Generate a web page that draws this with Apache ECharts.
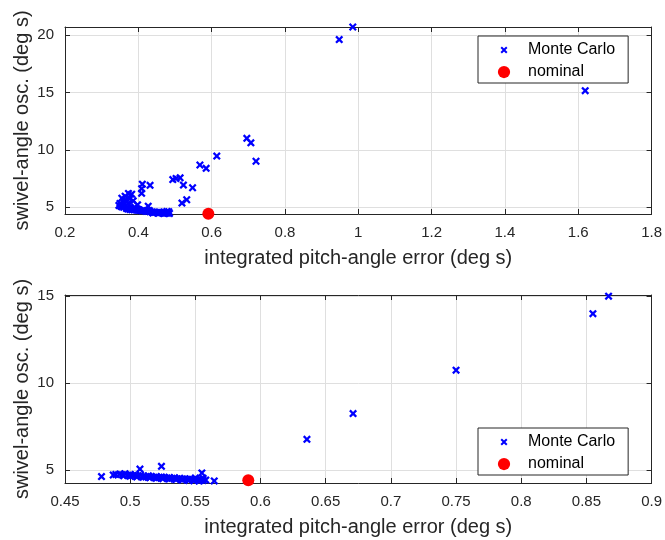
<!DOCTYPE html>
<html>
<head>
<meta charset="utf-8">
<script src="https://cdn.jsdelivr.net/npm/echarts@6/dist/echarts.min.js"></script>
<style>html,body{margin:0;padding:0;background:#fff}#c{width:665px;height:540px}</style>
</head>
<body>
<div id="c"></div>
<script>
// ---- Top panel data ----
var topMcX = [0.985,0.948,1.619,0.696,0.707,0.721,0.614,0.568,0.585,0.494,0.503,0.514,0.523,0.548,0.532,0.519,0.411,0.432,0.409,0.409,0.427,
  0.373,0.382,0.364,0.355,0.386,0.359,0.350,0.373,0.366,0.378,0.347,0.355,0.368,0.360,0.390,0.398,
  0.352,0.360,0.368,0.372,0.377,0.382,0.388,0.395,0.400,0.405,0.410,0.414,0.420,0.425,0.432,0.437,0.442,0.446,0.450,0.455,0.460,0.464,0.468,0.472,0.476,0.480,0.485,0.483,0.478,0.470,0.430,0.415,0.400,0.390,0.440,0.455,0.470];
var topMcY = [20.7,19.6,15.15,11.0,10.6,9.0,9.45,8.67,8.38,7.4,7.5,7.55,6.92,6.69,5.64,5.35,7.0,6.9,6.6,6.2,5.08,
  6.19,6.13,5.95,5.78,5.55,5.47,5.32,5.32,5.6,5.75,5.15,5.03,4.95,5.2,5.0,5.2,
  5.08,4.98,4.88,4.84,4.80,4.78,4.76,4.74,4.72,4.70,4.69,4.68,4.65,4.63,4.60,4.58,4.57,4.55,4.54,4.53,4.52,4.51,4.50,4.49,4.48,4.47,4.45,4.60,4.62,4.58,4.70,4.75,4.80,4.85,4.48,4.46,4.44];
var topNomX = [0.591];
var topNomY = [4.42];
var topXTicks = [0.2, 1.8, 0.2];       // min, max, step
var topYRange = [4.4, 20.7];
var topYTicks = [5, 10, 15, 20];

// ---- Bottom panel data ----
var botMcX = [0.867,0.855,0.750,0.671,0.6356,0.478,0.487,0.5075,0.524,0.555,0.5645,
  0.489,0.492,0.494,0.496,0.498,0.500,0.502,0.504,0.506,0.508,0.510,0.512,0.514,0.516,0.518,0.520,0.522,0.524,0.526,0.528,0.530,0.532,0.534,0.536,0.538,0.540,0.542,0.544,0.546,0.548,0.550,0.552,0.554,0.556,0.558,0.553,0.549,0.545,0.540,0.535,0.530,0.525,0.520,0.515,0.510,0.505,0.500,0.495,0.556,0.550];
var botMcY = [14.98,13.98,10.73,8.24,6.76,4.62,4.71,5.05,5.21,4.83,4.37,
  4.74,4.76,4.72,4.78,4.70,4.74,4.68,4.72,4.66,4.70,4.64,4.60,4.66,4.62,4.58,4.62,4.56,4.60,4.58,4.54,4.56,4.52,4.55,4.50,4.52,4.48,4.50,4.46,4.48,4.44,4.46,4.42,4.44,4.40,4.42,4.36,4.38,4.40,4.42,4.45,4.48,4.50,4.52,4.55,4.58,4.60,4.64,4.66,4.52,4.54];
var botNomX = [0.5906];
var botNomY = [4.41];
var botXTicks = [0.45, 0.9, 0.05];
var botYRange = [4.25, 15.05];
var botYTicks = [5, 10, 15];

var xLabel = 'integrated pitch-angle error (deg s)';
var yLabel = 'swivel-angle osc. (deg s)';
var seriesNames = ['Monte Carlo', 'nominal'];

function pairs(xs, ys) { return xs.map(function (v, i) { return [v, ys[i]]; }); }

var FONT = 'Liberation Sans, Arial, sans-serif';
var INK = '#262626';
var GRIDC = '#dfdfdf';
var XPATH = 'path://M2,0L5,3L8,0L10,2L7,5L10,8L8,10L5,7L2,10L0,8L3,5L0,2Z';
var XLEG = 'path://M-5,-5M15,15M2,0L5,3L8,0L10,2L7,5L10,8L8,10L5,7L2,10L0,8L3,5L0,2Z';
var CLEG = 'path://M-1,6A7,7,0,1,1,13,6A7,7,0,1,1,-1,6ZM-2,-2M14,14';

var grids = [
  { left: 65, right: 13, top: 27, height: 187 },
  { left: 65, right: 13, top: 295, height: 188 }
];

function mainX(gi, t) {
  return {
    type: 'value', gridIndex: gi, position: 'bottom', min: t[0], max: t[1], interval: t[2],
    name: xLabel, nameLocation: 'middle', nameGap: 34,
    nameTextStyle: { fontFamily: FONT, fontSize: 20, color: INK },
    axisLine: { show: true, onZero: false, lineStyle: { color: INK, width: 1 } },
    axisTick: { show: true, inside: true, length: 5, lineStyle: { color: INK } },
    axisLabel: { fontFamily: FONT, fontSize: 15, color: INK, margin: 11 },
    splitLine: { show: true, lineStyle: { color: GRIDC, width: 1 } }
  };
}
function topX(gi, t) {
  return {
    type: 'value', gridIndex: gi, position: 'top', min: t[0], max: t[1], interval: t[2],
    axisLine: { show: true, onZero: false, lineStyle: { color: INK, width: 1 } },
    axisTick: { show: true, inside: true, length: 5, lineStyle: { color: INK } },
    axisLabel: { show: false }, splitLine: { show: false }
  };
}
function mainY(gi, r, ticks) {
  return {
    type: 'value', gridIndex: gi, position: 'left', min: r[0], max: r[1],
    name: yLabel, nameLocation: 'middle', nameGap: 33, nameMoveOverlap: false,
    nameTextStyle: { fontFamily: FONT, fontSize: 20, color: INK },
    axisLine: { show: true, onZero: false, lineStyle: { color: INK, width: 1 } },
    axisTick: { show: true, inside: true, length: 5, lineStyle: { color: INK }, customValues: ticks },
    axisLabel: { fontFamily: FONT, fontSize: 15, color: INK, margin: 11, customValues: ticks },
    splitLine: { show: true, lineStyle: { color: GRIDC, width: 1 } }
  };
}
function rightY(gi, r, ticks) {
  return {
    type: 'value', gridIndex: gi, position: 'right', min: r[0], max: r[1],
    axisLine: { show: true, onZero: false, lineStyle: { color: INK, width: 1 } },
    axisTick: { show: true, inside: true, length: 5, lineStyle: { color: INK }, customValues: ticks },
    axisLabel: { show: false, customValues: ticks }, splitLine: { show: false }
  };
}
function legend(top) {
  return {
    orient: 'vertical', left: 478, top: top, itemWidth: 30, itemHeight: 14, itemGap: 6,
    padding: [6, 13, 3, 19], borderColor: INK, borderWidth: 1, backgroundColor: '#fff',
    textStyle: { fontFamily: FONT, fontSize: 16, color: '#000', padding: [0, 0, 0, 4] },
    selectedMode: false,
    data: [{ name: seriesNames[0], icon: XLEG }, { name: seriesNames[1], icon: CLEG }]
  };
}

var option = {
  animation: false,
  backgroundColor: '#fff',
  grid: grids,
  xAxis: [mainX(0, topXTicks), topX(0, topXTicks), mainX(1, botXTicks), topX(1, botXTicks)],
  yAxis: [mainY(0, topYRange, topYTicks), rightY(0, topYRange, topYTicks), mainY(1, botYRange, botYTicks), rightY(1, botYRange, botYTicks)],
  legend: [legend(36), legend(428)],
  series: [
    { name: seriesNames[0], type: 'scatter', xAxisIndex: 0, yAxisIndex: 0, symbol: XPATH, symbolSize: 8,
      itemStyle: { color: '#0000ff', opacity: 1 }, data: pairs(topMcX, topMcY) },
    { name: seriesNames[1], type: 'scatter', xAxisIndex: 0, yAxisIndex: 0, symbol: 'circle', symbolSize: 12,
      itemStyle: { color: '#ff0000', opacity: 1 }, data: pairs(topNomX, topNomY) },
    { name: seriesNames[0], type: 'scatter', xAxisIndex: 2, yAxisIndex: 2, symbol: XPATH, symbolSize: 8,
      itemStyle: { color: '#0000ff', opacity: 1 }, data: pairs(botMcX, botMcY) },
    { name: seriesNames[1], type: 'scatter', xAxisIndex: 2, yAxisIndex: 2, symbol: 'circle', symbolSize: 12,
      itemStyle: { color: '#ff0000', opacity: 1 }, data: pairs(botNomX, botNomY) }
  ]
};
var chart = echarts.init(document.getElementById('c'), null, { renderer: 'canvas' });
chart.setOption(option);
</script>
</body>
</html>
